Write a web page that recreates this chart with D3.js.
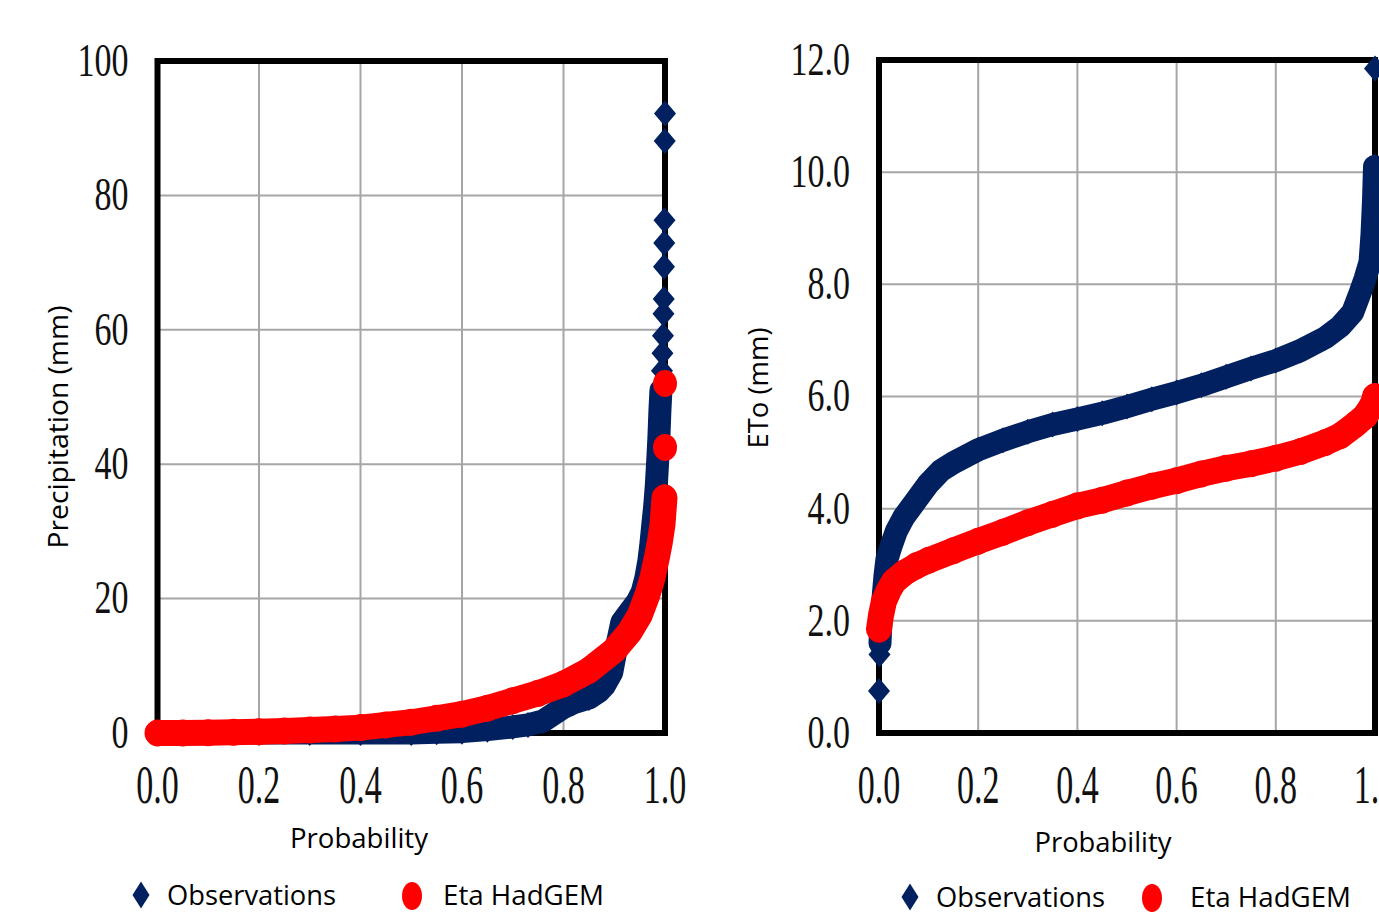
<!DOCTYPE html>
<html lang="en">
<head>
    <meta charset="UTF-8">
    <title>Probability plots</title>
    <script src="https://cdn.jsdelivr.net/npm/d3@7"></script>
    <style>
        body { margin: 0; background: #fff; }
        .tick-label { font-family: "Liberation Serif", "Times New Roman", serif; fill: #111; }
        .title { font-family: "Open Sans", "Noto Sans", sans-serif; fill: #000; }
    </style>
</head>
<body>
<svg width="1379" height="918"></svg>
<script>
    // tick values
    var probTicks = [0, 0.2, 0.4, 0.6, 0.8, 1.0];
    var precipTicks = [0, 20, 40, 60, 80, 100];
    var etoTicks = [0, 2, 4, 6, 8, 10, 12];

    // precipitation (mm): [probability, value], dense part
    var obsPrecip = [
        [0, 0], [0.1, 0], [0.2, 0], [0.3, 0], [0.4, 0], [0.5, 0], [0.55, 0.1],
        [0.6, 0.2], [0.65, 0.5], [0.7, 0.9], [0.73, 1.2], [0.76, 1.8], [0.78, 2.8],
        [0.8, 3.8], [0.82, 4.5], [0.85, 5.2], [0.87, 6.2], [0.88, 7], [0.895, 9],
        [0.905, 13], [0.915, 16.5], [0.93, 18], [0.945, 19.5], [0.955, 21],
        [0.962, 23], [0.968, 25.5], [0.972, 28], [0.976, 31], [0.98, 34],
        [0.983, 37], [0.986, 41], [0.988, 44], [0.99, 48], [0.992, 51]
    ];
    // precipitation observations, upper tail (single points)
    var obsPrecipTail = [
        [0.994, 53.9], [0.995, 56.5], [0.996, 59.1], [0.997, 62.4], [0.9975, 64.6],
        [0.998, 69.4], [0.9985, 72.9], [0.999, 76.3], [0.9995, 88.1], [1.0, 92.2]
    ];
    var etaPrecip = [
        [0, 0], [0.05, 0], [0.1, 0.05], [0.15, 0.1], [0.2, 0.2], [0.25, 0.3],
        [0.3, 0.45], [0.35, 0.6], [0.4, 0.8], [0.45, 1.2], [0.5, 1.6], [0.55, 2.2],
        [0.6, 2.8], [0.65, 3.7], [0.7, 4.8], [0.75, 5.9], [0.8, 7.3], [0.85, 9.3],
        [0.9, 12.3], [0.93, 15], [0.95, 17.5], [0.965, 20.5], [0.975, 23],
        [0.985, 26.5], [0.99, 28.5], [0.995, 31], [0.999, 35]
    ];
    var etaPrecipTail = [[1.0, 42.5], [1.0, 52]];

    // ETo (mm)
    var obsEto = [
        [0.002, 1.6], [0.004, 2.0], [0.008, 2.4], [0.012, 2.8], [0.016, 3.1],
        [0.025, 3.35], [0.035, 3.6], [0.05, 3.85], [0.075, 4.15], [0.1, 4.45],
        [0.125, 4.68], [0.15, 4.82], [0.2, 5.05], [0.25, 5.22], [0.3, 5.37],
        [0.35, 5.5], [0.4, 5.6], [0.45, 5.7], [0.5, 5.82], [0.55, 5.95], [0.6, 6.07],
        [0.65, 6.2], [0.7, 6.35], [0.75, 6.5], [0.8, 6.64], [0.85, 6.82], [0.9, 7.05],
        [0.93, 7.25], [0.955, 7.5], [0.97, 7.85], [0.98, 8.1], [0.99, 8.4],
        [0.994, 8.9], [0.997, 9.5], [0.999, 10.1]
    ];
    var obsEtoTail = [[0, 0.75], [0.001, 1.4], [1.0, 11.85]];
    var etaEto = [
        [0, 1.85], [0.004, 2.1], [0.01, 2.35], [0.02, 2.55], [0.03, 2.7], [0.05, 2.85],
        [0.075, 2.98], [0.1, 3.08], [0.15, 3.25], [0.2, 3.42], [0.25, 3.58], [0.3, 3.75],
        [0.35, 3.9], [0.4, 4.05], [0.45, 4.15], [0.5, 4.28], [0.55, 4.4], [0.6, 4.5],
        [0.65, 4.62], [0.7, 4.72], [0.75, 4.8], [0.8, 4.9], [0.85, 5.02], [0.9, 5.18],
        [0.93, 5.3], [0.96, 5.5], [0.98, 5.65], [0.99, 5.78], [0.997, 5.9], [1.0, 6.0]
    ];

    var navy = "#002060", red = "#ff0000", grid = "#a6a6a6";
    var svg = d3.select("svg");

    function diamond(sel, w, h) {
        sel.attr("d", "M0," + (-h / 2) + "L" + (w / 2) + ",0L0," + (h / 2) + "L" + (-w / 2) + ",0Z");
    }

    function panel(cfg) {
        var x = d3.scaleLinear().domain([0, 1]).range([cfg.left, cfg.right]);
        var y = d3.scaleLinear().domain(cfg.yDomain).range([cfg.bottom, cfg.top]);
        var g = svg.append("g");

        // grid
        g.selectAll(".gx").data(probTicks.slice(1, -1)).enter().append("line")
            .attr("x1", function(d) { return x(d); }).attr("x2", function(d) { return x(d); })
            .attr("y1", cfg.top).attr("y2", cfg.bottom)
            .attr("stroke", grid).attr("stroke-width", 2);
        g.selectAll(".gy").data(cfg.yTicks.slice(1, -1)).enter().append("line")
            .attr("y1", function(d) { return y(d); }).attr("y2", function(d) { return y(d); })
            .attr("x1", cfg.left).attr("x2", cfg.right)
            .attr("stroke", grid).attr("stroke-width", 2);

        // frame
        g.append("rect")
            .attr("x", cfg.left).attr("y", cfg.top)
            .attr("width", cfg.right - cfg.left).attr("height", cfg.bottom - cfg.top)
            .attr("fill", "none").attr("stroke", "#000").attr("stroke-width", 6);

        // tick labels
        g.selectAll(".ly").data(cfg.yTicks).enter().append("text")
            .attr("class", "tick-label")
            .attr("text-anchor", "end")
            .attr("font-size", 34)
            .attr("transform", function(d) { return "translate(" + (cfg.left - 29) + "," + y(d) + ") scale(1,1.35)"; })
            .attr("y", 11)
            .text(function(d) { return d3.format(cfg.yFmt)(d); });
        g.selectAll(".lx").data(probTicks).enter().append("text")
            .attr("class", "tick-label")
            .attr("text-anchor", "middle")
            .attr("font-size", 34)
            .attr("transform", function(d) { return "translate(" + x(d) + "," + (cfg.bottom + 70) + ") scale(1,1.6)"; })
            .text(function(d) { return d3.format(".1f")(d); });

        // axis titles
        g.append("text").attr("class", "title")
            .attr("x", cfg.xTitle[0]).attr("y", cfg.xTitle[1])
            .attr("text-anchor", "middle").attr("font-size", 28)
            .attr("textLength", cfg.xTitle[2]).attr("lengthAdjust", "spacingAndGlyphs")
            .text("Probability");
        g.append("text").attr("class", "title")
            .attr("transform", "translate(" + cfg.yTitle[0] + "," + cfg.yTitle[1] + ") rotate(-90)")
            .attr("text-anchor", "middle").attr("font-size", 28)
            .attr("textLength", cfg.yTitle[2]).attr("lengthAdjust", "spacingAndGlyphs")
            .text(cfg.yLabel);

        var line = d3.line().x(function(d) { return x(d[0]); }).y(function(d) { return y(d[1]); });

        // observations (diamonds)
        g.append("path").datum(cfg.obs).attr("d", line)
            .attr("fill", "none").attr("stroke", navy).attr("stroke-width", 23)
            .attr("stroke-linejoin", "round").attr("stroke-linecap", "round");
        g.selectAll(".obs").data(cfg.obs.concat(cfg.obsTail)).enter().append("path")
            .call(diamond, 22, 26)
            .attr("transform", function(d) { return "translate(" + x(d[0]) + "," + y(d[1]) + ")"; })
            .attr("fill", navy);

        // model (circles)
        g.append("path").datum(cfg.eta).attr("d", line)
            .attr("fill", "none").attr("stroke", red).attr("stroke-width", 26)
            .attr("stroke-linejoin", "round").attr("stroke-linecap", "round");
        g.selectAll(".eta").data(cfg.eta.concat(cfg.etaTail)).enter().append("ellipse")
            .attr("cx", function(d) { return x(d[0]); })
            .attr("cy", function(d) { return y(d[1]); })
            .attr("rx", 12).attr("ry", 13.5)
            .attr("fill", red);

        // legend
        var lg = g.append("g");
        lg.append("path").call(diamond, 17, 27)
            .attr("transform", "translate(" + cfg.legend[0] + "," + cfg.legend[1] + ")")
            .attr("fill", navy);
        lg.append("text").attr("class", "title")
            .attr("x", cfg.legend[0] + 26).attr("y", cfg.legend[1] + 10)
            .attr("font-size", 28)
            .attr("textLength", 169).attr("lengthAdjust", "spacingAndGlyphs")
            .text("Observations");
        lg.append("ellipse")
            .attr("cx", cfg.legend[2]).attr("cy", cfg.legend[1] + 1)
            .attr("rx", 10).attr("ry", 14).attr("fill", red);
        lg.append("text").attr("class", "title")
            .attr("x", cfg.legend[3]).attr("y", cfg.legend[1] + 10)
            .attr("font-size", 28)
            .attr("textLength", 161).attr("lengthAdjust", "spacingAndGlyphs")
            .text("Eta HadGEM");
    }

    panel({
        left: 157.5, right: 665, top: 61, bottom: 733,
        yDomain: [0, 100], yTicks: precipTicks, yFmt: "d",
        yLabel: "Precipitation (mm)",
        xTitle: [359, 848, 138], yTitle: [68, 427, 243],
        obs: obsPrecip, obsTail: obsPrecipTail,
        eta: etaPrecip, etaTail: etaPrecipTail,
        legend: [141, 895, 412, 443]
    });

    panel({
        left: 879, right: 1375, top: 60, bottom: 733,
        yDomain: [0, 12], yTicks: etoTicks, yFmt: ".1f",
        yLabel: "ETo (mm)",
        xTitle: [1103, 852, 137], yTitle: [768, 388, 121],
        obs: obsEto, obsTail: obsEtoTail,
        eta: etaEto, etaTail: [],
        legend: [910, 897, 1152, 1190]
    });
</script>
</body>
</html>
